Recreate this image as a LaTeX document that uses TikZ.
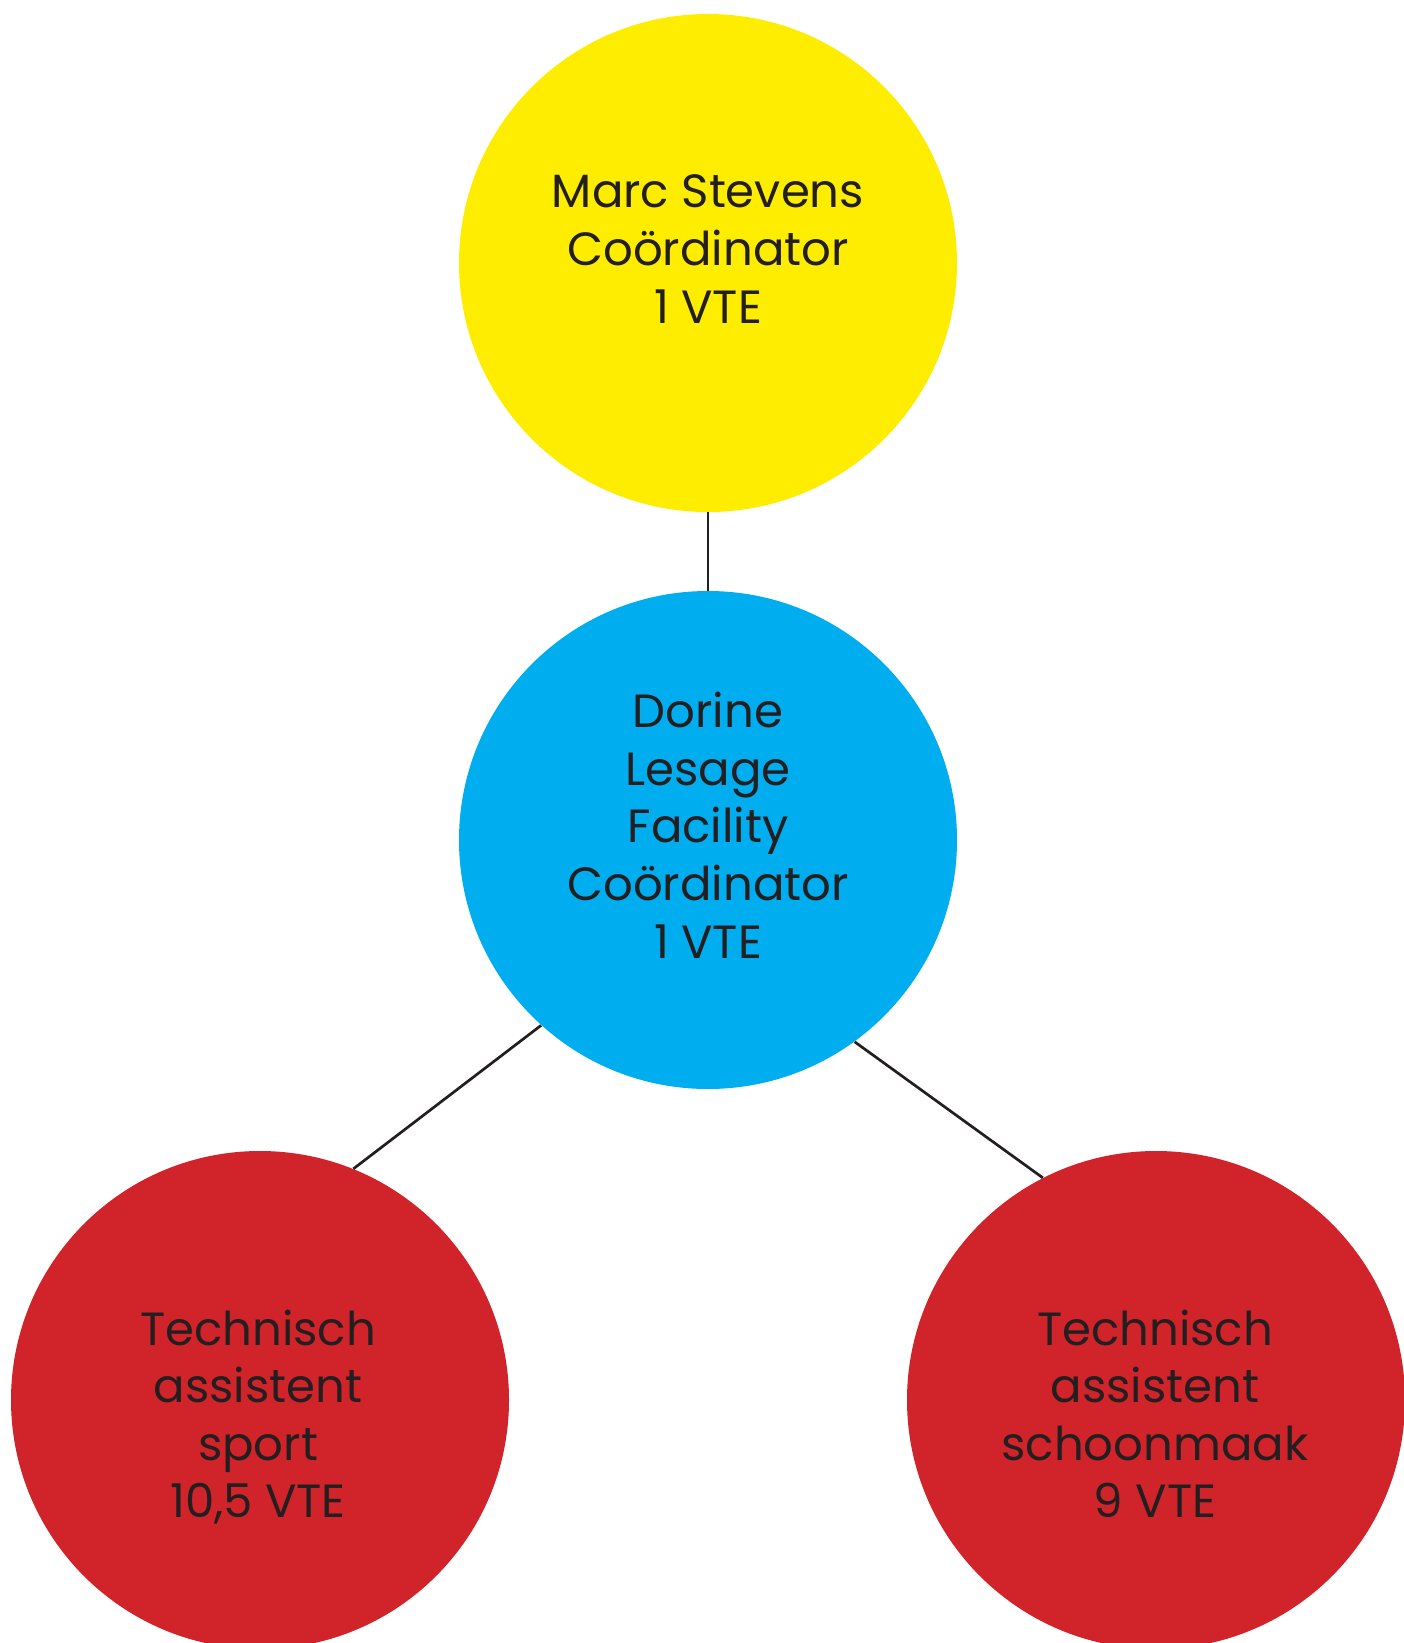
\documentclass[tikz,border=0pt]{standalone}
\usepackage{fontspec}
\setmainfont{Poppins}
\definecolor{cyel}{RGB}{255,237,0}
\definecolor{cblue}{RGB}{0,174,239}
\definecolor{cred}{RGB}{209,35,42}
\definecolor{ctext}{RGB}{35,31,32}
\begin{document}
\begin{tikzpicture}[x=0.5pt,y=-0.5pt,
  disc/.style={circle,draw=none,inner sep=0pt,minimum size=249pt},
  lbl/.style={text=ctext,align=center,anchor=base,inner sep=0pt,
    font=\fontsize{23.3pt}{28.8pt}\selectfont},
  conn/.style={draw=ctext,line width=1.35pt}]
\useasboundingbox (0,0) rectangle (1403,1643);
\node[disc,fill=cyel]  (coord) at (708,263) {};
\node[disc,fill=cblue] (fac)   at (708,840) {};
\node[disc,fill=cred]  (sport) at (260,1400) {};
\node[disc,fill=cred]  (clean) at (1156,1400) {};
\node[lbl] (tcoord) at (708,323) {Marc Stevens\\Coördinator\\1 VTE};
\node[lbl] (tfac)   at (708,958) {Dorine\\Lesage\\Facility\\Coördinator\\1 VTE};
\node[lbl] (tsport) at (258,1517.8) {Technisch\\assistent\\sport\\10,5 VTE};
\node[lbl] (tclean) at (1155,1517.8) {Technisch\\assistent\\schoonmaak\\9 VTE};
\draw[conn] (coord.south) -- (fac.north);
\draw[conn] (fac.228.9) -- (sport.68.4);
\draw[conn] (fac.-54.1) -- (clean.117.4);
\end{tikzpicture}
\end{document}
